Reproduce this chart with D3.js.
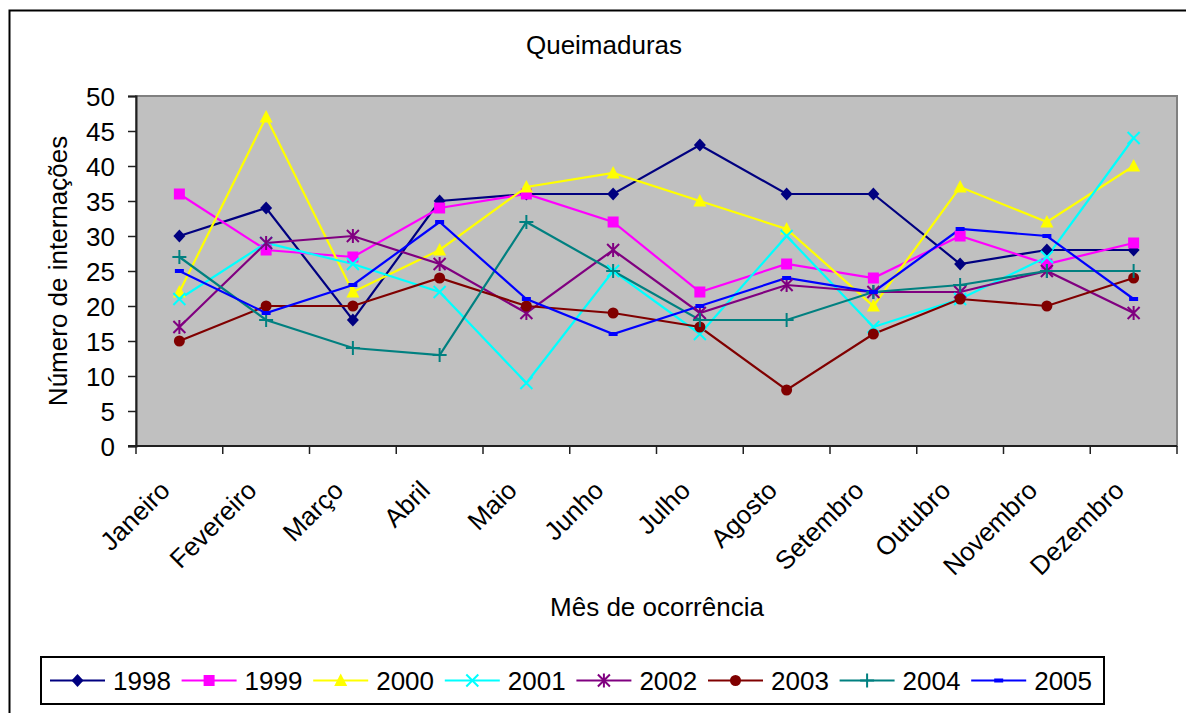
<!DOCTYPE html>
<html>
<head>
<meta charset="utf-8">
<script src="https://cdn.jsdelivr.net/npm/d3@7"></script>
<style>
	body { margin: 0; background: white; }
	text { font-family: "Liberation Sans", Arial, sans-serif; fill: black; }
</style>
</head>
<body>
<div id="viz"></div>
<script>
let months = ["Janeiro", "Fevereiro", "Março", "Abril", "Maio", "Junho",
	"Julho", "Agosto", "Setembro", "Outubro", "Novembro", "Dezembro"];
let years = ["1998", "1999", "2000", "2001", "2002", "2003", "2004", "2005"];
let yTicks = [0, 5, 10, 15, 20, 25, 30, 35, 40, 45, 50];

let v1998 = [30, 34, 18, 35, 36, 36, 43, 36, 36, 26, 28, 28];
let v1999 = [36, 28, 27, 34, 36, 32, 22, 26, 24, 30, 26, 29];
let v2000 = [22, 47, 22, 28, 37, 39, 35, 31, 20, 37, 32, 40];
let v2001 = [21, 29, 26, 22,  9, 25, 16, 30, 17, 21, 27, 44];
let v2002 = [17, 29, 30, 26, 19, 28, 19, 23, 22, 22, 25, 19];
let v2003 = [15, 20, 20, 24, 20, 19, 17,  8, 16, 21, 20, 24];
let v2004 = [27, 18, 14, 13, 32, 25, 18, 18, 22, 23, 25, 25];
let v2005 = [25, 19, 23, 32, 21, 16, 20, 24, 22, 31, 30, 21];
let seriesValues = [v1998, v1999, v2000, v2001, v2002, v2003, v2004, v2005];

// look of each series (Excel defaults)
let colors = ["#000080", "#FF00FF", "#FFFF00", "#00FFFF", "#800080", "#800000", "#008080", "#0000FF"];
let markers = ["diamond", "square", "triangle", "x", "star", "circle", "plus", "dash"];

let W = 1186, H = 713;
let plot = {left: 136, right: 1177, top: 96, bottom: 446};
let fs = 26;

let svg = d3.select("#viz").append("svg")
	.attr("width", W).attr("height", H);

// outer chart frame (right and bottom edges fall outside the picture)
svg.append("rect")
	.attr("x", 9.5).attr("y", 10.5)
	.attr("width", W + 10).attr("height", H + 10)
	.style("fill", "white").style("stroke", "black").style("stroke-width", 2);

let x = d3.scalePoint().domain(months).range([plot.left, plot.right]).padding(0.5);
let xBand = d3.scaleBand().domain(months).range([plot.left, plot.right]);
let y = d3.scaleLinear().domain([0, 50]).range([plot.bottom, plot.top]);

svg.append("rect")
	.attr("x", plot.left).attr("y", plot.top)
	.attr("width", plot.right - plot.left).attr("height", plot.bottom - plot.top)
	.style("fill", "#C0C0C0").style("stroke", "#808080").style("stroke-width", 2);

// y axis
let yAxis = svg.append("g")
	.attr("transform", "translate(" + plot.left + ",0)")
	.call(d3.axisLeft(y).tickValues(yTicks).tickSize(8).tickPadding(13));
yAxis.select(".domain").attr("stroke", "#202020").attr("stroke-width", 2);
yAxis.selectAll(".tick line").attr("stroke", "#202020").attr("stroke-width", 1.5);
yAxis.selectAll(".tick text").style("font-size", fs + "px").attr("dy", "0.36em")
	.style("font-family", "'Liberation Sans', Arial, sans-serif");

// x axis: line, ticks between categories, rotated labels
svg.append("line")
	.attr("x1", plot.left - 8).attr("x2", plot.right)
	.attr("y1", plot.bottom).attr("y2", plot.bottom)
	.attr("stroke", "#202020").attr("stroke-width", 2);

let bounds = months.map(m => xBand(m)).concat([plot.right]);
svg.selectAll(".xtick").data(bounds).enter().append("line")
	.attr("class", "xtick")
	.attr("x1", d => d).attr("x2", d => d)
	.attr("y1", plot.bottom).attr("y2", plot.bottom + 8)
	.attr("stroke", "#202020").attr("stroke-width", 1.5);

svg.selectAll(".xlab").data(months).enter().append("text")
	.attr("class", "xlab")
	.attr("text-anchor", "end")
	.style("font-size", fs + "px")
	.attr("transform", d => "translate(" + (x(d) - 8) + "," + (plot.bottom + 46) + ") rotate(-45)")
	.text(d => d);

// titles
svg.append("text").attr("x", 604).attr("y", 54)
	.attr("text-anchor", "middle").style("font-size", fs + "px").text("Queimaduras");
svg.append("text").attr("x", 657).attr("y", 616)
	.attr("text-anchor", "middle").style("font-size", fs + "px").text("Mês de ocorrência");
svg.append("text")
	.attr("transform", "translate(67," + ((plot.top + plot.bottom) / 2) + ") rotate(-90)")
	.attr("text-anchor", "middle").style("font-size", fs + "px").text("Número de internações");

function markerPath(kind) {
	switch (kind) {
	case "diamond": return "M0,-6.5L6,0L0,6.5L-6,0Z";
	case "square": return "M-5.5,-5.5H5.5V5.5H-5.5Z";
	case "triangle": return "M0,-7L6.5,5.5H-6.5Z";
	case "x": return "M-6,-6L6,6M-6,6L6,-6";
	case "star": return "M-6,-6L6,6M-6,6L6,-6M0,-7V7";
	case "plus": return "M-7,0H7M0,-7V7";
	case "dash": return "M-4.5,-2H4.5V2H-4.5Z";
	}
	return "";
}

function drawMarker(g, kind, color) {
	if (kind === "circle") {
		g.append("circle").attr("r", 5.5).style("fill", color);
	} else if (kind === "x" || kind === "star" || kind === "plus") {
		g.append("path").attr("d", markerPath(kind))
			.style("fill", "none").style("stroke", color).style("stroke-width", 2);
	} else {
		g.append("path").attr("d", markerPath(kind)).style("fill", color);
	}
}

let line = d3.line()
	.x((d, i) => x(months[i]))
	.y(d => y(d));

seriesValues.forEach((vals, s) => {
	svg.append("path")
		.attr("d", line(vals))
		.style("fill", "none")
		.style("stroke", colors[s])
		.style("stroke-width", 2.2);
});

seriesValues.forEach((vals, s) => {
	vals.forEach((v, i) => {
		let g = svg.append("g")
			.attr("transform", "translate(" + x(months[i]) + "," + y(v) + ")");
		drawMarker(g, markers[s], colors[s]);
	});
});

// legend
let leg = {left: 41, top: 657, right: 1104, bottom: 704};
svg.append("rect")
	.attr("x", leg.left).attr("y", leg.top)
	.attr("width", leg.right - leg.left).attr("height", leg.bottom - leg.top)
	.style("fill", "white").style("stroke", "black").style("stroke-width", 2);

let legMid = (leg.top + leg.bottom) / 2;
years.forEach((yr, s) => {
	let lx = 50 + s * 131.6;
	svg.append("line")
		.attr("x1", lx).attr("x2", lx + 55)
		.attr("y1", legMid).attr("y2", legMid)
		.attr("stroke", colors[s]).attr("stroke-width", 2);
	let g = svg.append("g").attr("transform", "translate(" + (lx + 27.5) + "," + legMid + ")");
	drawMarker(g, markers[s], colors[s]);
	svg.append("text")
		.attr("x", lx + 63).attr("y", legMid + 9)
		.style("font-size", fs + "px").text(yr);
});
</script>
</body>
</html>
